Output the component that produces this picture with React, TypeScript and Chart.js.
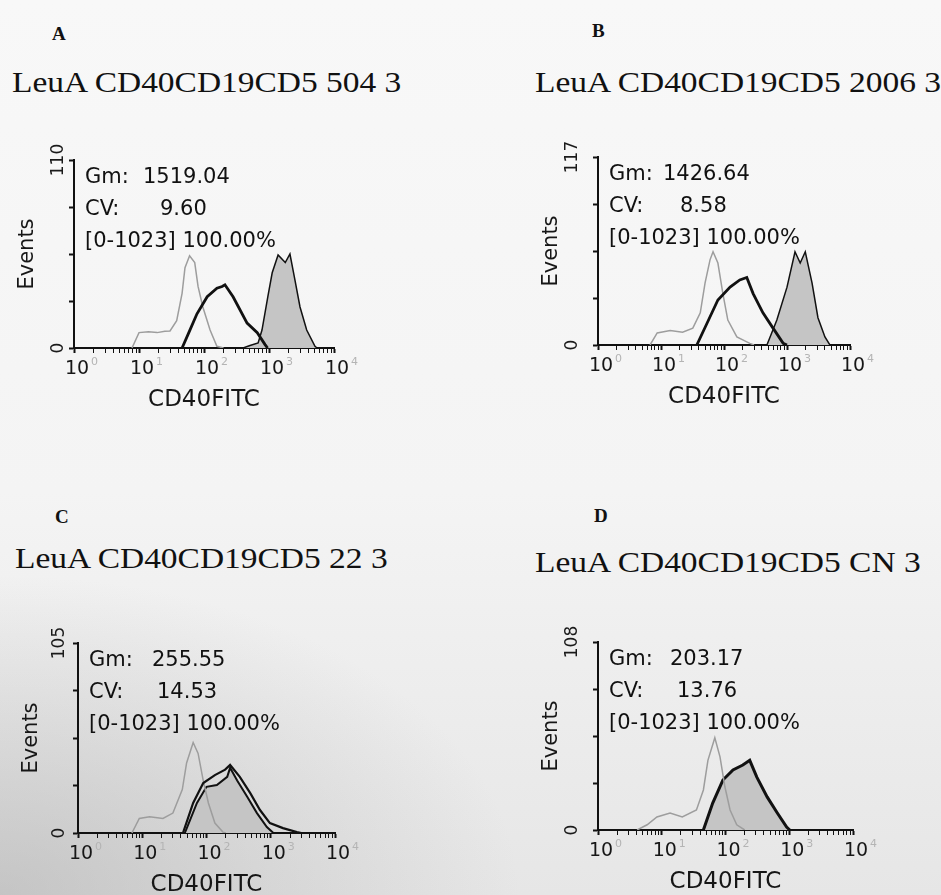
import React, { useEffect, useRef } from "react";
import { Chart, registerables } from "chart.js";

Chart.register(...registerables);

// ---------- data (fluorescence intensity, events) ----------
// Panel A : LeuA CD40CD19CD5 504 3
const aCtrlX = [7.8, 10, 14, 19, 25, 30, 38, 46, 51, 60, 72, 81, 96, 124, 158, 200];
const aCtrlY = [0, 9, 9.5, 9, 9.8, 10, 16, 32, 47, 54, 50, 36, 24, 10.5, 1, 0];
const aLineX = [46, 60, 78, 112, 158, 190, 210, 280, 460, 660, 870, 950];
const aLineY = [0, 10, 20, 30, 35, 36, 37, 30, 14.6, 9, 2, 0];
const aFillX = [400, 510, 680, 780, 960, 1120, 1380, 1780, 2100, 2500, 3000, 3800, 5100, 5500];
const aFillY = [0, 1.5, 3, 10.5, 30, 44, 54.4, 50, 55, 40, 24, 10.5, 1, 0];

// Panel B : LeuA CD40CD19CD5 2006 3
const bCtrlX = [6.7, 8.7, 14, 22, 32, 42, 50, 60, 67, 80, 96, 115, 160, 257, 300];
const bCtrlY = [0, 7.5, 9, 8, 10.5, 20, 38.5, 53, 58, 51, 32, 15.5, 5, 1, 0];
const bLineX = [37, 54, 80, 125, 178, 230, 290, 415, 600, 870, 1000];
const bLineY = [0, 13.7, 28, 36, 40.5, 42, 32, 20, 10.5, 1, 0];
const bFillX = [480, 690, 1000, 1340, 1620, 1950, 2500, 3100, 4000, 4800];
const bFillY = [0, 15.5, 36, 58, 51, 58, 38.5, 17, 5, 0];

// Panel C : LeuA CD40CD19CD5 22 3
const cCtrlX = [6.9, 9, 13, 21, 30, 42, 49, 62, 74, 89, 107, 135, 180, 200];
const cCtrlY = [0, 8, 9, 8, 11, 24, 38.7, 50, 44, 29, 16.6, 5.5, 0.5, 0];
const cLineX = [43, 62, 89, 135, 195, 233, 330, 480, 680, 970, 1550, 2550, 3000];
const cLineY = [0, 16.6, 27.6, 32, 35, 37.6, 31, 22, 12.7, 5.5, 2.7, 0.5, 0];
const cFillX = [46, 71, 100, 145, 210, 233, 300, 430, 610, 870, 1100];
const cFillY = [0, 16.6, 25.5, 26.5, 31, 36, 29, 20, 11, 3.3, 0];

// Panel D : LeuA CD40CD19CD5 CN 3
const dCtrlX = [4.1, 5.9, 8.4, 13.5, 21, 35, 45, 53, 68, 82, 98, 118, 150, 200];
const dCtrlY = [0, 3, 7.5, 9.8, 7.5, 11.5, 23, 40, 53, 42, 24.7, 11.5, 3, 0];
const dFillX = [45, 63, 91, 131, 187, 240, 310, 450, 650, 910, 1020];
const dFillY = [0, 15.5, 28.7, 34.5, 37.3, 40, 30.4, 19, 9.8, 1.7, 0];

const panelLetters = ["A", "B", "C", "D"];
const panelTitles = [
  "LeuA CD40CD19CD5 504 3",
  "LeuA CD40CD19CD5 2006 3",
  "LeuA CD40CD19CD5 22 3",
  "LeuA CD40CD19CD5 CN 3",
];
const yMaxValues = [110, 117, 105, 108];
const gmValues = ["1519.04", "1426.64", "255.55", "203.17"];
const cvValues = ["9.60", "8.58", "14.53", "13.76"];
const gateText = "[0-1023] 100.00%";
const xAxisTitle = "CD40FITC";
const yAxisTitle = "Events";
const xMin = 1;
const xMax = 10000;
const decadeExponents = ["0", "1", "2", "3", "4"];

// ---------- layout ----------
const layouts = [
  { axisX: 74, right: 334, top: 160, bottom: 348, letter: [52, 24], title: [12, 67], yLab: 15, gmW: 58, cvW: 75, fillBorder: 1.5, lineWidth: 2.8 },
  { axisX: 598, right: 850, top: 157, bottom: 345, letter: [592, 21], title: [535, 67], yLab: 25, gmW: 54, cvW: 71, fillBorder: 1.5, lineWidth: 2.8 },
  { axisX: 78, right: 335, top: 643, bottom: 833, letter: [55, 507], title: [15, 543], yLab: 18, gmW: 63, cvW: 68, fillBorder: 2, lineWidth: 2.2 },
  { axisX: 598, right: 853, top: 642, bottom: 830, letter: [594, 506], title: [535, 547], yLab: 25, gmW: 61, cvW: 68, fillBorder: 3, lineWidth: 2.6 },
];

const series = [
  { ctrl: [aCtrlX, aCtrlY], line: [aLineX, aLineY], fill: [aFillX, aFillY] },
  { ctrl: [bCtrlX, bCtrlY], line: [bLineX, bLineY], fill: [bFillX, bFillY] },
  { ctrl: [cCtrlX, cCtrlY], line: [cLineX, cLineY], fill: [cFillX, cFillY] },
  { ctrl: [dCtrlX, dCtrlY], line: null, fill: [dFillX, dFillY] },
];

const PAD_L = 11;
const Y_W = 63;
const PAD_T = 30;
const PAD_R = 32;
const X_H = 70;
const SANS = "'DejaVu Sans', sans-serif";
const SERIF = "'Liberation Serif', 'Times New Roman', serif";
const TICK_FONT = 19;
const TICK_PAD = 5;
const TICK_LEN = 5;
const LABEL_SHIFT = 3;

const tickValues: number[] = [];
for (let e = 0; e < 4; e++) {
  for (let m = 1; m < 10; m++) tickValues.push(m * Math.pow(10, e));
}
tickValues.push(10000);

const isDecade = (v: number) => {
  const e = Math.log10(v);
  return Math.abs(e - Math.round(e)) < 1e-9;
};

const toPts = (xs: number[], ys: number[]) => xs.map((x, i) => ({ x, y: ys[i] }));

function Panel({ idx }: { idx: number }) {
  const ref = useRef<HTMLCanvasElement>(null);
  const L = layouts[idx];
  const yMax = yMaxValues[idx];
  const left = L.axisX - PAD_L - Y_W;
  const top = L.top - PAD_T;
  const width = L.right - left + PAD_R;
  const height = L.bottom - L.top + PAD_T + X_H;

  useEffect(() => {
    const s = series[idx];
    const datasets: any[] = [];
    if (s.line) {
      datasets.push({
        data: toPts(s.line[0], s.line[1]),
        borderColor: "#111",
        borderWidth: L.lineWidth,
        pointRadius: 0,
        fill: false,
        tension: 0,
        order: 1,
      });
    }
    datasets.push({
      data: toPts(s.ctrl[0], s.ctrl[1]),
      borderColor: "#9d9d9d",
      borderWidth: 1.5,
      pointRadius: 0,
      fill: false,
      tension: 0,
      order: 2,
    });
    datasets.push({
      data: toPts(s.fill[0], s.fill[1]),
      borderColor: "#111",
      backgroundColor: "#c5c5c5",
      borderWidth: L.fillBorder,
      pointRadius: 0,
      fill: "origin",
      tension: 0,
      order: 3,
    });

    const axisLabelPlugin = {
      id: "axisExtraLabels",
      afterDraw(chart: any) {
        const ys = chart.scales.y;
        const xs = chart.scales.x;
        const ctx = chart.ctx;
        ctx.save();
        // rotated end labels on the count axis
        ctx.font = `17px ${SANS}`;
        ctx.fillStyle = "#1a1a1a";
        ctx.textAlign = "center";
        ctx.textBaseline = "middle";
        [0, yMax].forEach((v) => {
          ctx.save();
          ctx.translate(ys.right - L.yLab, ys.getPixelForValue(v));
          ctx.rotate(-Math.PI / 2);
          ctx.fillText(String(v), 0, 0);
          ctx.restore();
        });
        // faint exponents of the decade labels
        ctx.font = `${TICK_FONT}px ${SANS}`;
        const baseW = ctx.measureText("10").width;
        const labelMid = xs.top + TICK_LEN + TICK_PAD + (TICK_FONT * 1.2) / 2;
        ctx.font = `11px ${SANS}`;
        ctx.fillStyle = "#b4b4b4";
        ctx.textAlign = "left";
        decadeExponents.forEach((ex, i) => {
          const px = xs.getPixelForValue(Math.pow(10, i)) + LABEL_SHIFT + baseW / 2 + 2;
          ctx.fillText(ex, px, labelMid - 7);
        });
        ctx.restore();
      },
    };

    const chart = new Chart(ref.current as HTMLCanvasElement, {
      type: "line",
      data: { datasets },
      plugins: [axisLabelPlugin],
      options: {
        animation: false,
        responsive: false,
        devicePixelRatio: 1,
        events: [],
        layout: { padding: { left: PAD_L, top: PAD_T, right: PAD_R, bottom: 0 } },
        plugins: { legend: { display: false }, tooltip: { enabled: false } },
        scales: {
          x: {
            type: "logarithmic",
            min: xMin,
            max: xMax,
            afterFit: (sc: any) => {
              sc.height = X_H;
            },
            afterBuildTicks: (sc: any) => {
              sc.ticks = tickValues.map((v) => ({ value: v, major: isDecade(v) }));
            },
            ticks: {
              autoSkip: false,
              maxRotation: 0,
              minRotation: 0,
              padding: TICK_PAD,
              labelOffset: LABEL_SHIFT,
              color: "#161616",
              font: { family: SANS, size: TICK_FONT },
              callback: (v: any) => (isDecade(Number(v)) ? "10" : ""),
            },
            grid: {
              drawOnChartArea: false,
              drawTicks: true,
              tickLength: TICK_LEN,
              tickColor: "#111",
              tickWidth: (c: any) => (c.tick && c.tick.major ? 2 : 1),
            },
            border: { display: true, color: "#111", width: 2 },
            title: {
              display: true,
              text: xAxisTitle,
              color: "#161616",
              font: { family: SANS, size: 23 },
              padding: { top: 0, bottom: 4 },
            },
          },
          y: {
            type: "linear",
            min: 0,
            max: yMax,
            afterFit: (sc: any) => {
              sc.width = Y_W;
            },
            afterBuildTicks: (sc: any) => {
              sc.ticks = [0, 0.25, 0.5, 0.75, 1].map((f) => ({ value: f * yMax }));
            },
            ticks: { display: false },
            grid: {
              drawOnChartArea: false,
              drawTicks: true,
              tickLength: 5,
              tickColor: "#111",
              tickWidth: 2,
            },
            border: { display: true, color: "#111", width: 2 },
            title: {
              display: true,
              text: yAxisTitle,
              color: "#161616",
              font: { family: SANS, size: 21 },
              padding: { top: 4, bottom: 0 },
            },
          },
        },
      } as any,
    });
    return () => chart.destroy();
  }, []);

  return (
    <>
      <div
        style={{
          position: "absolute",
          left: L.letter[0],
          top: L.letter[1],
          font: `bold 19px ${SERIF}`,
          lineHeight: "19px",
          color: "#111",
        }}
      >
        {panelLetters[idx]}
      </div>
      <div
        style={{
          position: "absolute",
          left: L.title[0],
          top: L.title[1],
          font: `30px ${SERIF}`,
          lineHeight: "30px",
          whiteSpace: "nowrap",
          color: "#111",
          transform: "scaleX(1.115)",
          transformOrigin: "0 0",
        }}
      >
        {panelTitles[idx]}
      </div>
      <canvas
        ref={ref}
        width={width}
        height={height}
        style={{ position: "absolute", left, top, width, height }}
      />
      <div
        style={{
          position: "absolute",
          left: L.axisX + 11,
          top: L.top,
          font: `21px ${SANS}`,
          lineHeight: "32px",
          color: "#111",
          whiteSpace: "nowrap",
        }}
      >
        <div>
          <span style={{ display: "inline-block", width: L.gmW }}>Gm:</span>
          {gmValues[idx]}
        </div>
        <div>
          <span style={{ display: "inline-block", width: L.cvW }}>CV:</span>
          {cvValues[idx]}
        </div>
        <div>{gateText}</div>
      </div>
    </>
  );
}

export default function App() {
  return (
    <div
      style={{
        position: "fixed",
        left: 0,
        top: 0,
        width: 941,
        height: 895,
        overflow: "hidden",
        background:
          "radial-gradient(ellipse 520px 320px at 0% 100%, rgba(150,150,150,0.42), rgba(150,150,150,0) 100%), linear-gradient(180deg, #f8f8f8 0%, #f4f4f4 55%, #e6e6e6 100%)",
      }}
    >
      {[0, 1, 2, 3].map((i) => (
        <Panel key={i} idx={i} />
      ))}
    </div>
  );
}
